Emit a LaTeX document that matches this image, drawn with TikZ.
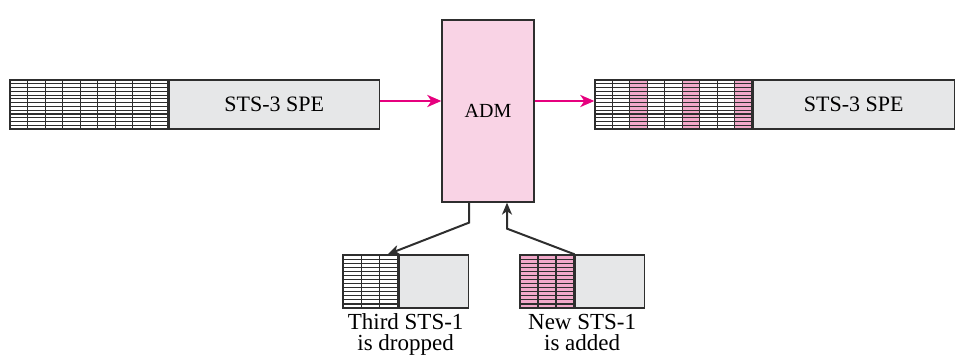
\documentclass[tikz,border=0pt]{standalone}
\usepackage{fontspec}
\setmainfont{Liberation Serif}
\usetikzlibrary{positioning, arrows.meta, calc}

\definecolor{admpink}{HTML}{F9D3E5}
\definecolor{cellpink}{HTML}{F2A9CA}
\definecolor{feedpink}{HTML}{E6007E}
\definecolor{boxgray}{HTML}{E6E7E8}
\definecolor{edgegray}{HTML}{2E2E2E}

\begin{document}
\begin{tikzpicture}
	[x=1pt, y=-1pt, node distance=0pt,
	 spebox/.style={draw=edgegray, line width=1.3pt, fill=boxgray, inner sep=0pt,
	   font=\fontsize{22}{26}\selectfont},
	 gridarea/.style={draw=edgegray, line width=1.3pt, inner sep=0pt},
	 cell/.style={draw=edgegray, line width=1.15pt},
	 admbox/.style={draw=edgegray, line width=1.3pt, fill=admpink, inner sep=0pt,
	   minimum width=92pt, minimum height=182pt, font=\fontsize{20}{24}\selectfont},
	 feed/.style={draw=feedpink, line width=2.5pt, -{Stealth[length=14pt, width=12pt, inset=4pt]}},
	 tap/.style={draw=edgegray, line width=2pt, -{Stealth[length=12pt, width=10pt, inset=3.5pt]}},
	 caption/.style={align=center, inner sep=0pt, font=\fontsize{23}{21}\selectfont}]
   \useasboundingbox (0,0) rectangle (955,355);

   % STS-3 frame coming in
   \node[gridarea, minimum width=158pt, minimum height=49pt] (lgrid) at (89,104.5) {};
   \foreach \c in {0,...,8}
     \foreach \r in {0,...,12}
       \draw[cell, fill=white] ({10+\c*17.56},{80+\r*3.77}) rectangle ++(17.56,3.77);
   \node[spebox, minimum width=210pt, minimum height=49pt, right=of lgrid] (lspe) {STS-3 SPE};

   % the multiplexer
   \node[admbox] (adm) at (488,111) {ADM};

   % STS-3 frame going out
   \node[gridarea, minimum width=157pt, minimum height=49pt] (rgrid) at (673.5,104.5) {};
   \foreach \c/\f in {0/white,1/white,2/cellpink,3/white,4/white,5/cellpink,6/white,7/white,8/cellpink}
     \foreach \r in {0,...,12}
       \draw[cell, fill=\f] ({595+\c*17.44},{80+\r*3.77}) rectangle ++(17.44,3.77);
   \node[spebox, minimum width=201pt, minimum height=49pt, right=of rgrid] (rspe) {STS-3 SPE};

   % dropped STS-1
   \node[gridarea, minimum width=55pt, minimum height=53pt] (dgrid) at (370.5,281.5) {};
   \foreach \c in {0,1,2}
     \foreach \r in {0,...,12}
       \draw[cell, fill=white] ({343+\c*18.33},{255+\r*4.08}) rectangle ++(18.33,4.08);
   \node[spebox, minimum width=69pt, minimum height=53pt, right=of dgrid] (dbox) {};
   \coordinate[left=11pt of dbox.north west] (dropin);

   % added STS-1
   \node[gridarea, minimum width=54pt, minimum height=53pt] (agrid) at (547,281.5) {};
   \foreach \c in {0,1,2}
     \foreach \r in {0,...,12}
       \draw[cell, fill=cellpink] ({520+\c*18},{255+\r*4.08}) rectangle ++(18,4.08);
   \node[spebox, minimum width=69pt, minimum height=53pt, right=of agrid] (abox) {};

   \node[caption, below=5pt] (dtext) at ($(dgrid.south west)!0.5!(dbox.south east)$) {Third STS-1\\is dropped};
   \node[caption, below=5pt] (atext) at ($(agrid.south west)!0.5!(abox.south east)$) {New STS-1\\is added};

   % connectors
   \draw[feed] ([yshift=3.5pt]lspe.east) -- ([yshift=3.5pt]lspe.east -| adm.west);
   \draw[feed] ([yshift=3.5pt]rgrid.west -| adm.east) -- ([yshift=3.5pt]rgrid.west);
   \draw[tap] ([xshift=-19pt]adm.south) -- ++(0,20) -- (dropin);
   \draw[tap] (agrid.north east) -- ([xshift=19pt, yshift=-26pt]adm.south) -- ([xshift=19pt]adm.south);
\end{tikzpicture}
\end{document}
